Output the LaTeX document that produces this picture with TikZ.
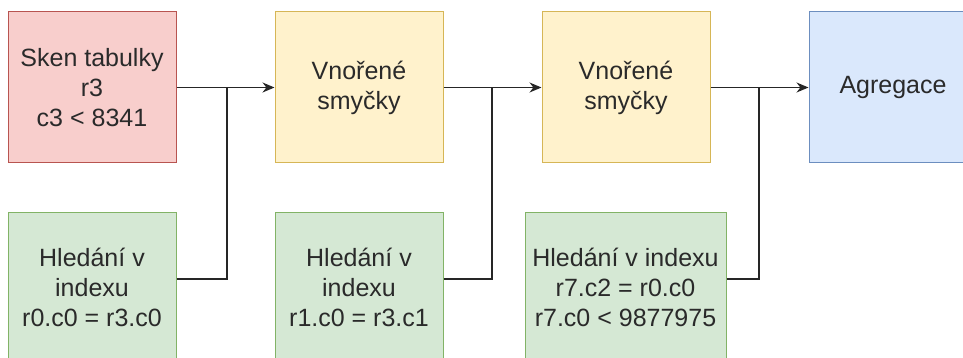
\documentclass[tikz,border=0pt]{standalone}
\usepackage{fontspec}
\setmainfont{Liberation Sans}
\usetikzlibrary{arrows.meta}
\definecolor{redfill}{HTML}{F8CECC}\definecolor{redline}{HTML}{B85450}
\definecolor{yelfill}{HTML}{FFF2CC}\definecolor{yelline}{HTML}{D6B656}
\definecolor{bluefill}{HTML}{DAE8FC}\definecolor{blueline}{HTML}{6C8EBF}
\definecolor{grnfill}{HTML}{D5E8D4}\definecolor{grnline}{HTML}{82B366}
\definecolor{txt}{HTML}{2A2A2A}
\tikzset{
  box/.style={draw, line width=1pt, minimum width=168pt, minimum height=151pt,
    inner sep=0pt, align=center, text=txt, font=\fontsize{25}{30}\selectfont},
  scanbox/.style={box, fill=redfill, draw=redline},
  loopbox/.style={box, fill=yelfill, draw=yelline},
  aggbox/.style={box, fill=bluefill, draw=blueline},
  idxbox/.style={box, fill=grnfill, draw=grnline},
  flow/.style={draw=black!85, line width=1.3pt, -{Stealth[length=12pt,width=10pt]}},
  feed/.style={draw=black!85, line width=1.3pt}
}
\begin{document}
\begin{tikzpicture}[x=1pt, y=-1pt]
\useasboundingbox (0,0) rectangle (963,358);
\clip (0,0) rectangle (963,358);

% upper row: pipeline operators
\node[scanbox] (scan) at (92,87.5) {Sken tabulky\\r3\\c3 < 8341};
\node[loopbox] (loopA) at (359,87.5) {Vnořené\\smyčky};
\node[loopbox] (loopB) at (626,87.5) {Vnořené\\smyčky};
\node[aggbox] (agg) at (893,87.5) {Agregace};

% lower row: index lookups
\node[idxbox] (idxA) at (92,287.5) {Hledání v\\indexu\\r0.c0 = r3.c0};
\node[idxbox] (idxB) at (359,287.5) {Hledání v\\indexu\\r1.c0 = r3.c1};
\node[idxbox, minimum width=201pt] (idxC) at (625.5,287.5) {Hledání v indexu\\r7.c2 = r0.c0\\r7.c0 < 9877975};

% junction points where index lookups join the main flow
\coordinate (jA) at (227,87.5);
\coordinate (jB) at (492,87.5);
\coordinate (jC) at (759,87.5);

% main flow
\draw[flow] (scan.east) -- (loopA.west);
\draw[flow] (loopA.east) -- (loopB.west);
\draw[flow] (loopB.east) -- (agg.west);

% index feeds
\draw[feed] (idxA.east |- 0,279) -| (jA);
\draw[feed] (idxB.east |- 0,279) -| (jB);
\draw[feed] (idxC.east |- 0,279) -| (jC);
\end{tikzpicture}
\end{document}
